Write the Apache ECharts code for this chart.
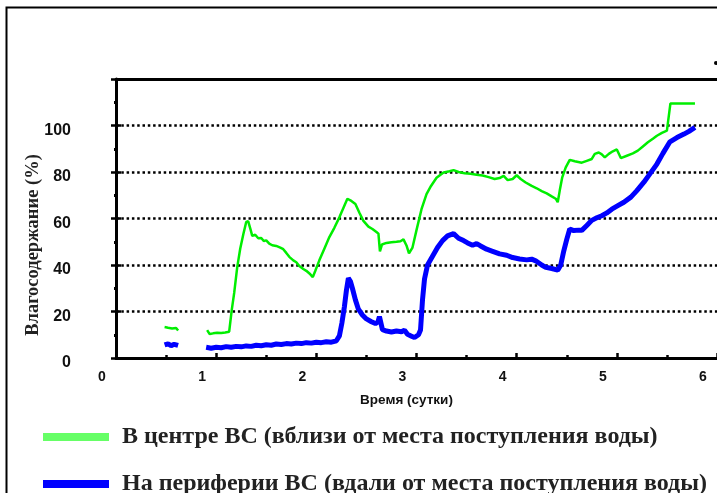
<!DOCTYPE html>
<html>
<head>
<meta charset="utf-8">
<script src="https://cdn.jsdelivr.net/npm/echarts@6/dist/echarts.min.js"></script>
<style>
  html, body { margin: 0; padding: 0; background: #fff; }
  #chart { width: 717px; height: 493px; }
</style>
</head>
<body>
<div id="chart"></div>
<script>
// Series names shown in the legend
const seriesNames = [
  'В центре ВС (вблизи от места поступления воды)',
  'На периферии ВС (вдали от места поступления воды)'
];
const xAxisTitle = 'Время (сутки)';
const yAxisTitle = 'Влагосодержание (%)';

// Water content near the water inlet: [days, %]; '-' breaks the line
const centreData = [
  [0.485, 13.3], [0.52, 13.0], [0.56, 12.7], [0.6, 12.9], [0.62, 11.8],
  [0.75, '-'],
  [0.91, 12.0], [0.935, 10.3], [0.97, 10.6], [1.01, 10.9], [1.05, 10.8], [1.09, 11.0], [1.13, 11.3],
  [1.155, 20.5], [1.18, 28], [1.21, 39], [1.24, 47], [1.27, 53], [1.30, 58.5], [1.32, 58.8],
  [1.345, 55], [1.36, 52.5], [1.39, 53], [1.42, 51.5], [1.45, 51.6], [1.475, 50.3], [1.5, 50.6],
  [1.53, 49.2], [1.56, 48.5], [1.6, 48.2], [1.64, 47.5], [1.67, 46.8], [1.7, 45.2], [1.73, 43.5],
  [1.77, 42.0], [1.8, 41.2], [1.83, 39.6], [1.87, 38.3], [1.9, 37.5], [1.94, 36.0], [1.965, 34.8],
  [1.99, 37.5], [2.03, 42], [2.08, 47], [2.13, 52], [2.18, 56], [2.23, 60.5], [2.27, 64.5],
  [2.31, 68.5], [2.34, 67.8], [2.39, 66.2], [2.43, 62.5], [2.47, 59], [2.52, 56.5], [2.56, 55.5],
  [2.6, 54.2], [2.62, 53.5], [2.635, 45.8], [2.655, 48.8], [2.7, 49.5], [2.75, 49.8], [2.8, 50.0],
  [2.84, 50.2], [2.87, 51.0], [2.9, 48.4], [2.925, 45.0], [2.96, 47.5], [3.0, 55], [3.05, 64],
  [3.1, 70.5], [3.145, 74], [3.2, 77.5], [3.27, 79.8], [3.33, 80.3], [3.37, 80.8], [3.42, 80.0],
  [3.48, 79.5], [3.54, 79.2], [3.6, 78.8], [3.66, 78.5], [3.72, 77.8], [3.78, 77.0], [3.83, 77.4],
  [3.87, 78.3], [3.91, 76.5], [3.96, 77.0], [4.0, 78.6], [4.04, 77.0], [4.09, 75.5], [4.15, 74.0],
  [4.2, 73.0], [4.25, 71.8], [4.3, 70.8], [4.35, 69.5], [4.39, 68.5], [4.41, 67.0], [4.43, 72],
  [4.455, 77.7], [4.49, 82], [4.53, 85.2], [4.58, 84.6], [4.65, 84.0], [4.7, 84.8], [4.75, 85.6],
  [4.78, 87.8], [4.82, 88.4], [4.85, 87.6], [4.88, 86.3], [4.92, 87.8], [4.96, 88.9], [5.0, 89.7],
  [5.04, 86.0], [5.1, 87.0], [5.16, 88.0], [5.21, 89.2], [5.26, 91.0], [5.31, 92.8], [5.36, 94.3],
  [5.40, 95.6], [5.45, 96.8], [5.5, 97.8], [5.535, 109.5], [5.6, 109.5], [5.7, 109.5], [5.78, 109.5]
];

// Water content at the periphery: [days, %]
const peripheryData = [
  [0.485, 5.6], [0.52, 6.1], [0.55, 5.3], [0.58, 5.9], [0.62, 5.4],
  [0.75, '-'],
  [0.90, 4.6], [0.95, 4.2], [1.0, 4.6], [1.05, 4.4], [1.1, 4.9], [1.15, 4.6], [1.2, 5.0], [1.25, 4.8],
  [1.3, 5.2], [1.35, 5.0], [1.4, 5.5], [1.45, 5.3], [1.5, 5.7], [1.55, 5.5], [1.6, 6.0], [1.65, 5.8],
  [1.7, 6.2], [1.75, 6.0], [1.8, 6.4], [1.85, 6.2], [1.9, 6.6], [1.95, 6.4], [2.0, 6.8], [2.05, 6.6],
  [2.1, 7.0], [2.15, 6.8], [2.2, 7.4], [2.23, 9.5], [2.255, 15], [2.28, 22], [2.3, 29], [2.32, 34.3],
  [2.34, 33], [2.36, 30], [2.39, 25], [2.42, 21], [2.46, 18.5], [2.5, 16.8], [2.55, 15.6], [2.59, 14.8],
  [2.615, 15.5], [2.63, 17.8], [2.645, 15], [2.66, 12.2], [2.7, 11.6], [2.75, 11.2], [2.8, 11.6],
  [2.85, 11.3], [2.88, 12.0], [2.91, 10.2], [2.95, 9.4], [2.98, 8.8], [3.02, 10], [3.04, 12],
  [3.06, 25], [3.08, 34], [3.11, 40], [3.15, 43], [3.21, 47.5], [3.26, 50.5], [3.31, 52.5],
  [3.37, 53.5], [3.42, 51.5], [3.47, 50.5], [3.51, 49.5], [3.56, 48.5], [3.6, 49.2], [3.64, 48.2],
  [3.7, 46.8], [3.76, 45.9], [3.83, 44.8], [3.9, 44.2], [3.96, 43.2], [4.03, 42.6], [4.1, 42.2],
  [4.15, 42.5], [4.19, 41.8], [4.25, 40.0], [4.29, 39.0], [4.35, 38.5], [4.41, 37.8], [4.44, 40],
  [4.47, 46], [4.5, 51], [4.53, 55.5], [4.57, 54.8], [4.62, 55.0], [4.65, 54.9], [4.7, 57],
  [4.75, 59.2], [4.8, 60.3], [4.85, 61.2], [4.9, 62.4], [4.95, 64], [5.01, 65.5], [5.07, 67.0],
  [5.14, 69.2], [5.2, 72.0], [5.27, 75.6], [5.33, 79.2], [5.40, 83.4], [5.46, 88], [5.53, 93],
  [5.6, 94.8], [5.67, 96.3], [5.72, 97.5], [5.78, 99.2]
];

const chart = echarts.init(document.getElementById('chart'), null, { renderer: 'canvas' });

const sansBold = { fontFamily: 'Liberation Sans, Arial, sans-serif', fontWeight: 'bold', color: '#111' };
const serifBold = { fontFamily: 'Liberation Serif, Times New Roman, serif', fontWeight: 'bold', color: '#222' };

// one legend block per series, stacked vertically below the plot
function legendBlock(index, colour, top) {
  return {
    show: true,
    orient: 'vertical',
    left: 43,
    top: top,
    padding: 0,
    icon: 'rect',
    itemWidth: 66,
    itemHeight: 8,
    data: [{ name: seriesNames[index], itemStyle: { color: colour, borderWidth: 0 } }],
    textStyle: Object.assign({ fontSize: 24, lineHeight: 26, padding: [0, 0, 0, 8] }, serifBold)
  };
}

chart.setOption({
  animation: false,
  backgroundColor: '#fff',
  grid: { left: 116, top: 79, bottom: 135, right: -11 },
  graphic: [
    { type: 'rect', shape: { x: 6.5, y: 7.5, width: 800, height: 600 },
      style: { fill: 'none', stroke: '#000', lineWidth: 2 }, silent: true },
    { type: 'circle', shape: { cx: 716, cy: 63, r: 2 }, style: { fill: '#000' }, silent: true }
  ],
  legend: [
    legendBlock(0, '#66ff66', 424),
    legendBlock(1, '#0000ff', 471)
  ],
  xAxis: [
    {
      type: 'value', min: 0, max: 6, interval: 1,
      axisLine: { onZero: false, lineStyle: { color: '#000', width: 3 } },
      axisTick: { inside: true, length: 5, lineStyle: { color: '#000', width: 2.5 } },
      minorTick: { show: true, splitNumber: 2, length: 3, lineStyle: { color: '#000', width: 2.5 } },
      splitLine: { show: false },
      axisLabel: Object.assign({ fontSize: 14, margin: 12, padding: [0, 28, 0, 0] }, sansBold),
      name: xAxisTitle,
      nameLocation: 'middle',
      nameGap: 35,
      nameMoveOverlap: false,
      nameTextStyle: Object.assign({ fontSize: 13.5, padding: [0, 20, 0, 0] }, sansBold)
    },
    {
      type: 'value', position: 'top', min: 0, max: 6,
      axisLine: { show: true, onZero: false, lineStyle: { color: '#000', width: 3 } },
      axisTick: { show: false }, axisLabel: { show: false }, splitLine: { show: false }
    }
  ],
  yAxis: [
    {
      type: 'value', min: 0, max: 120, interval: 20,
      axisLine: { show: true, onZero: false, lineStyle: { color: '#000', width: 3 } },
      axisTick: { show: true, length: 5, lineStyle: { color: '#000', width: 2.5 } },
      minorTick: { show: true, splitNumber: 2, length: 2, lineStyle: { color: '#000', width: 3 } },
      splitLine: { show: true, lineStyle: { color: '#000', width: 2.5, type: [2.5, 2.8] } },
      axisLabel: Object.assign({
        fontSize: 16, margin: 45, lineHeight: 10, verticalAlign: 'top',
        formatter: v => (v > 100 ? '' : String(v))
      }, sansBold),
      name: yAxisTitle,
      nameLocation: 'middle',
      nameGap: 73,
      nameMoveOverlap: false,
      nameRotate: 90,
      nameTextStyle: Object.assign({ fontSize: 18.5, padding: [0, 53, 0, 0] }, serifBold)
    },
    {
      type: 'value', min: 0, max: 120, interval: 20, position: 'left',
      axisLine: { show: false, onZero: false },
      axisTick: { show: true, inside: true, length: 5, lineStyle: { color: '#000', width: 2.5 } },
      minorTick: { show: true, splitNumber: 2, length: 2, lineStyle: { color: '#000', width: 3 } },
      splitLine: { show: false }, axisLabel: { show: false }
    }
  ],
  series: [
    {
      name: seriesNames[0], type: 'line', showSymbol: false, connectNulls: false,
      color: '#00ee00',
      lineStyle: { color: '#00ee00', width: 2.5 },
      data: centreData, z: 3
    },
    {
      name: seriesNames[1], type: 'line', showSymbol: false, connectNulls: false,
      color: '#0000ff',
      lineStyle: { color: '#0000ff', width: 5 },
      data: peripheryData, z: 4
    }
  ]
});
</script>
</body>
</html>
